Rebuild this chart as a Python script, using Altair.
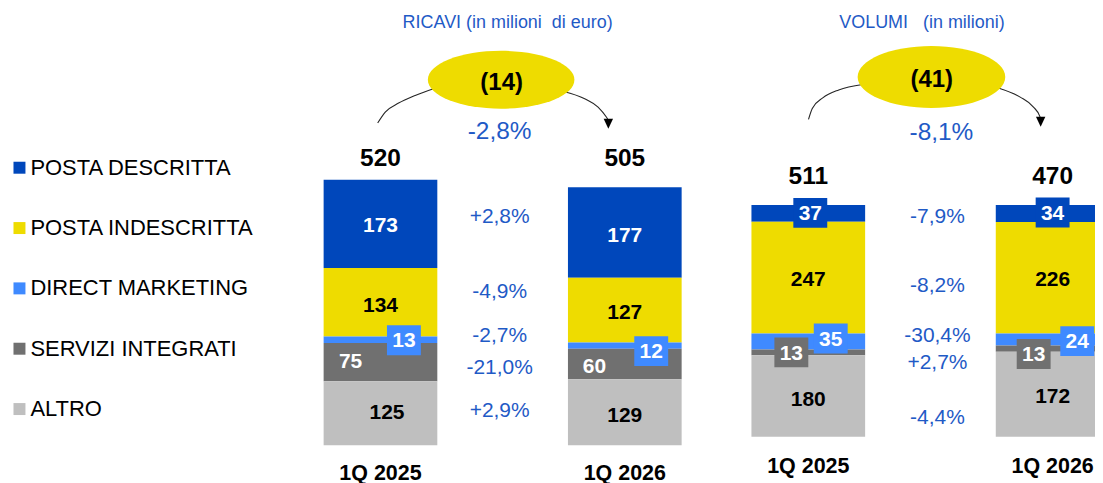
import altair as alt
import pandas as pd

# ---------------- data ----------------
CATEGORIES = ["POSTA DESCRITTA", "POSTA INDESCRITTA", "DIRECT MARKETING",
              "SERVIZI INTEGRATI", "ALTRO"]
QUARTERS = ["1Q 2025", "1Q 2026"]

RICAVI_2025 = [173, 134, 13, 75, 125]
RICAVI_2026 = [177, 127, 12, 60, 129]
RICAVI_TOT = [520, 505]
RICAVI_CHG = ["+2,8%", "-4,9%", "-2,7%", "-21,0%", "+2,9%"]
RICAVI_DELTA = "(14)"
RICAVI_DELTA_PCT = "-2,8%"
RICAVI_TITLE = "RICAVI (in milioni\u00a0 di euro)"

VOLUMI_2025 = [37, 247, 35, 13, 180]
VOLUMI_2026 = [34, 226, 24, 13, 172]
VOLUMI_TOT = [511, 470]
VOLUMI_CHG = ["-7,9%", "-8,2%", "-30,4%", "+2,7%", "-4,4%"]
VOLUMI_DELTA = "(41)"
VOLUMI_DELTA_PCT = "-8,1%"
VOLUMI_TITLE = "VOLUMI\u00a0\u00a0 (in milioni)"

# ---------------- style ----------------
FONT = "Liberation Sans"
COLORS = ["#0047BB", "#EEDC00", "#3F8AFF", "#707070", "#BFBFBF"]
LABEL_TXT = ["#FFFFFF", "#000000", "#FFFFFF", "#FFFFFF", "#000000"]
BLUE_TXT = "#1F5AC6"
YELLOW = "#EEDC00"

PAGE_M = 8
WA, WB, H = 708, 379, 475
STEP = 245.0
BAR_W = 114
BOX_PATH = "M-1,-0.882L1,-0.882L1,0.882L-1,0.882Z"
BOX_SIZE = 34 * 34
TRI_PATH = "M-0.94,-1L0.94,-1L0,1Z"


def ellipse_path(r):
    c = 0.5523
    rc = r * c
    return (f"M-1,0C-1,{-rc:.4f} {-c},{-r:.4f} 0,{-r:.4f}"
            f"C{c},{-r:.4f} 1,{-rc:.4f} 1,0"
            f"C1,{rc:.4f} {c},{r:.4f} 0,{r:.4f}"
            f"C{-c},{r:.4f} -1,{rc:.4f} -1,0Z")


# label offsets (px): (dx, dy, boxed) per quarter per category
LABEL_STYLE = {
    "A": [
        [(0, 1, False), (0, 2.5, False), (23.5, 0.5, True), (-30, -1, False), (6.5, -1.5, False)],
        [(0, 2.3, False), (0, 1.3, False), (26.5, 5.6, True), (-30.5, 1.5, False), (0, 2.5, False)],
    ],
    "B": [
        [(2, -0.6, True), (0, 1, False), (22.5, -3, True), (-17, 0, True), (0, 2.3, False)],
        [(0, -1, True), (0, 1, False), (24.7, 1.7, True), (-19, 5.4, True), (0, 1.5, False)],
    ],
}

# page-coordinate layout of each panel
LAYOUT = {
    "A": dict(ox=PAGE_M, width=WA, bar_x0=378.5, base=445.7, ppu=0.512, normalized=False,
              title=(506, 22.5), ellipse=(499.5, 79.3, 147, 58),
              delta=(500, 82.9), delta_pct=(498, 131.4), total_y=158.9, quarter_y=474.5,
              chg_x=498, chg_y=[217.2, 291.7, 336.7, 368.7, 411.7],
              arrows=[[(375.7, 122.7), (383.3, 111.7), (396.7, 102.7), (413.3, 95), (434, 87.5)],
                      [(562, 91), (583.3, 98.3), (596.7, 106.7), (605, 116.7), (607, 120)]],
              head=(607, 123.3, 10)),
    "B": dict(ox=PAGE_M + WA, width=WB, bar_x0=807.5, base=437.3, ppu=232.3, normalized=True,
              title=(921.5, 22), ellipse=(931, 76.5, 148, 62),
              delta=(931.3, 79.9), delta_pct=(941, 132.9), total_y=176.4, quarter_y=467.2,
              chg_x=937, chg_y=[216.7, 286.2, 336.7, 363.7, 418.7],
              arrows=[[(807.7, 119), (811.5, 108), (822, 97.5), (838, 89.5), (862, 84)],
                      [(998, 87.5), (1020, 96.7), (1033.3, 106.7), (1040, 116.7), (1040.7, 119)]],
              head=(1040.5, 121.5, 10)),
}

color_enc = alt.Color(
    "category:N",
    scale=alt.Scale(domain=CATEGORIES, range=COLORS),
    legend=alt.Legend(title=None, orient="none", legendX=-2.5, legendY=148.5, direction="vertical",
                      symbolType="square", symbolSize=144, symbolStrokeWidth=0, symbolOpacity=1,
                      labelFont=FONT, labelFontSize=22, labelColor="#000000", labelOffset=0,
                      labelLimit=400, rowPadding=38.5, padding=0),
)


def build_panel(key, vals_by_q, totals, changes, delta, delta_pct, title):
    lay = LAYOUT[key]
    ox = lay["ox"]
    width = lay["width"]
    xc0 = lay["bar_x0"] - ox
    base = lay["base"] - PAGE_M
    ppu = lay["ppu"]
    xs = alt.Scale(domain=[-xc0 / STEP, (width - xc0) / STEP], nice=False, zero=False)
    ys = alt.Scale(domain=[-(H - base) / ppu, base / ppu], nice=False, zero=False)

    def to_x(px):
        return (px - ox - xc0) / STEP

    def to_y(py):
        return (base - (py - PAGE_M)) / ppu

    X = lambda f: alt.X(f, scale=xs, axis=None)
    Y = lambda f: alt.Y(f, scale=ys, axis=None)

    rows = []
    for qi, vals in enumerate(vals_by_q):
        for ci, (cat, v) in enumerate(zip(CATEGORIES, vals)):
            dx, dy, boxed = LABEL_STYLE[key][qi][ci]
            rows.append(dict(q=qi, category=cat, stack=len(CATEGORIES) - 1 - ci, value=v,
                             dx=dx, dy=dy, boxed=boxed,
                             tcol="#FFFFFF" if boxed else LABEL_TXT[ci], bcol=COLORS[ci]))
    df = pd.DataFrame(rows)
    hw = BAR_W / 2 / STEP
    k = "1 / datum.tot" if lay["normalized"] else "1"
    seg = (alt.Chart(df)
           .transform_window(cum="sum(value)", groupby=["q"],
                             sort=[alt.SortField("stack", order="ascending")], frame=[None, 0])
           .transform_joinaggregate(tot="sum(value)", groupby=["q"])
           .transform_calculate(k=k)
           .transform_calculate(
               x0=f"datum.q - {hw}", x1=f"datum.q + {hw}",
               y0="(datum.cum - datum.value) * datum.k", y1="datum.cum * datum.k",
               xl=f"datum.q + datum.dx / {STEP}",
               yl=f"(datum.cum - datum.value / 2) * datum.k - datum.dy / {ppu}")
           .transform_calculate(yt=f"datum.yl - 1.2 / {ppu}"))

    bars = seg.mark_rect(clip=True).encode(x=X("x0:Q"), x2="x1:Q", y=Y("y0:Q"), y2="y1:Q",
                                           color=color_enc)
    boxes = seg.transform_filter("datum.boxed").mark_point(
        shape=BOX_PATH, filled=True, size=BOX_SIZE, opacity=1, strokeWidth=0
    ).encode(x=X("xl:Q"), y=Y("yl:Q"), color=alt.Color("bcol:N", scale=None))
    labels = seg.mark_text(font=FONT, fontSize=21, fontWeight="bold", align="center",
                           baseline="middle").encode(
        x=X("xl:Q"), y=Y("yt:Q"), text="value:Q", color=alt.Color("tcol:N", scale=None))

    tot_df = pd.DataFrame({"q": [0, 1], "tot": totals})
    tots = alt.Chart(tot_df).mark_text(font=FONT, fontSize=24.5, fontWeight="bold",
                                       color="#000000", baseline="middle").encode(
        x=X("q:Q"), y=alt.value(lay["total_y"] - PAGE_M), text="tot:Q")

    q_df = pd.DataFrame({"q": [0, 1], "quarter": QUARTERS})
    qlab = alt.Chart(q_df).mark_text(font=FONT, fontSize=21.5, fontWeight="bold",
                                     color="#000000", baseline="middle").encode(
        x=X("q:Q"), y=alt.value(lay["quarter_y"] - PAGE_M), text="quarter:N")

    chg_df = pd.DataFrame({"chg": changes,
                           "cx": [to_x(lay["chg_x"])] * len(changes),
                           "cy": [to_y(v) for v in lay["chg_y"]]})
    chg = alt.Chart(chg_df).mark_text(font=FONT, fontSize=21, color=BLUE_TXT,
                                      baseline="middle").encode(
        x=X("cx:Q"), y=Y("cy:Q"), text="chg:N")

    arr_rows = []
    for si, pts in enumerate(lay["arrows"]):
        for i, (px, py) in enumerate(pts):
            arr_rows.append(dict(side=si, i=i, ax=to_x(px), ay=to_y(py)))
    arrows = alt.Chart(pd.DataFrame(arr_rows)).mark_line(
        interpolate="monotone", color="#262626", strokeWidth=1.1
    ).encode(x=X("ax:Q"), y=Y("ay:Q"), detail="side:N", order="i:Q")

    hx, hy, hs = lay["head"]
    head = alt.Chart(pd.DataFrame({"a": [0]})).mark_point(
        shape=TRI_PATH, filled=True, size=hs * hs, color="#000000", opacity=1, strokeWidth=0
    ).encode(x=alt.value(hx - ox), y=alt.value(hy - PAGE_M))

    ex, ey, ew, eh = lay["ellipse"]
    ell = alt.Chart(pd.DataFrame({"a": [0]})).mark_point(
        shape=ellipse_path(eh / ew), filled=True, size=ew * ew, color=YELLOW, opacity=1,
        strokeWidth=0
    ).encode(x=alt.value(ex - ox), y=alt.value(ey - PAGE_M))

    dx_, dy_ = lay["delta"]
    dtext = alt.Chart(pd.DataFrame({"t": [delta]})).mark_text(
        font=FONT, fontSize=24, fontWeight="bold", color="#000000", baseline="middle"
    ).encode(x=alt.value(dx_ - ox), y=alt.value(dy_ - PAGE_M), text="t:N")

    px_, py_ = lay["delta_pct"]
    ptext = alt.Chart(pd.DataFrame({"t": [delta_pct]})).mark_text(
        font=FONT, fontSize=24.5, color=BLUE_TXT, baseline="middle"
    ).encode(x=alt.value(px_ - ox), y=alt.value(py_ - PAGE_M), text="t:N")

    tx, ty = lay["title"]
    ttext = alt.Chart(pd.DataFrame({"t": [title]})).mark_text(
        font=FONT, fontSize=18, color=BLUE_TXT, baseline="middle"
    ).encode(x=alt.value(tx - ox), y=alt.value(ty - PAGE_M), text="t:N")

    return alt.layer(bars, boxes, labels, tots, qlab, chg, arrows, head, ell, dtext, ptext,
                     ttext).properties(width=width, height=H)


panel_a = build_panel("A", [RICAVI_2025, RICAVI_2026], RICAVI_TOT, RICAVI_CHG,
                      RICAVI_DELTA, RICAVI_DELTA_PCT, RICAVI_TITLE)
panel_b = build_panel("B", [VOLUMI_2025, VOLUMI_2026], VOLUMI_TOT, VOLUMI_CHG,
                      VOLUMI_DELTA, VOLUMI_DELTA_PCT, VOLUMI_TITLE)

chart = alt.hconcat(panel_a, panel_b, spacing=0).properties(padding=0).configure_view(stroke=None)

chart.save("out.html", embed_options={"renderer": "svg", "actions": False})
